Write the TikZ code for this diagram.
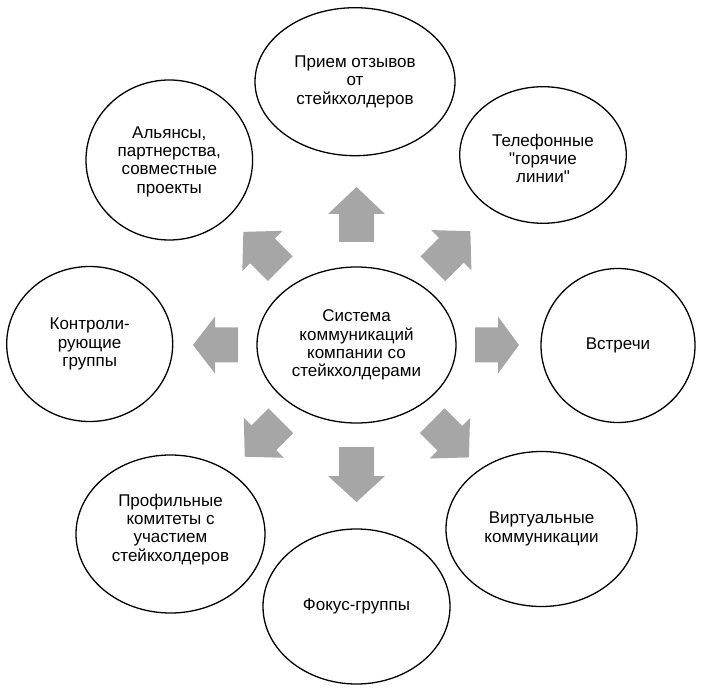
\documentclass[tikz,border=0pt]{standalone}
\usepackage{fontspec}
\setmainfont{Liberation Sans}[Ligatures=TeXOff]
\usetikzlibrary{shapes.geometric}
\definecolor{arrowgray}{RGB}{166,166,166}
\tikzset{
  oval/.style={ellipse, draw=black, line width=1.3pt, fill=white, inner sep=0pt,
    align=center, font=\fontsize{17}{18.3}\selectfont},
  arrowfill/.style={fill=arrowgray}
}
\newcommand\gArrow[4]{%
  \fill[arrowfill, shift={(C)}, rotate=#1]
    (#2,-17.5) -- ({#3-#4},-17.5) -- ({#3-#4},-28.5) -- (#3,0) --
    ({#3-#4},28.5) -- ({#3-#4},17.5) -- (#2,17.5) -- cycle;}
\newcommand\shiftedtext[2]{\raisebox{#1}[\height][\depth]{\begin{tabular}{@{}c@{}}#2\end{tabular}}}
\begin{document}
\begin{tikzpicture}[x=1pt,y=1pt]
\useasboundingbox (0,0) rectangle (704,689);
\coordinate (C) at (356.5,344);
\node[oval, minimum width=199pt, minimum height=156pt] (center) at (356.5,344)
  {Система\\коммуникаций\\компании со\\стейкхолдерами};
\node[oval, minimum width=200pt, minimum height=148pt] (top) at (355,607.3)
  {Прием отзывов\\от\\стейкхолдеров};
\node[oval, minimum width=166.6pt, minimum height=160pt] (topleft) at (169.3,529)
  {\shiftedtext{-2pt}{Альянсы,\\партнерства,\\совместные\\проекты}};
\node[oval, minimum width=166.6pt, minimum height=136.6pt] (topright) at (543,534)
  {\shiftedtext{-6pt}{Телефонные\\"горячие\\линии"}};
\node[oval, minimum width=166pt, minimum height=155pt] (left) at (89.7,345)
  {Контроли-\\рующие\\группы};
\node[oval, minimum width=154pt, minimum height=154pt] (right) at (618,343.5)
  {Встречи};
\node[oval, minimum width=189pt, minimum height=158pt] (bottomleft) at (170.5,155)
  {\shiftedtext{4pt}{Профильные\\комитеты с\\участием\\стейкхолдеров}};
\node[oval, minimum width=187pt, minimum height=155pt] (bottom) at (356.5,82.5)
  {Фокус-группы};
\node[oval, minimum width=191pt, minimum height=155pt] (bottomright) at (541.5,160)
  {Виртуальные\\коммуникации};
\gArrow{90}{103}{158}{27}
\gArrow{270}{102}{157}{26}
\gArrow{180}{118.5}{163.5}{22}
\gArrow{0}{118.5}{162.5}{21}
\gArrow{135}{108}{160}{27}
\gArrow{45}{108}{161}{27}
\gArrow{225}{107}{158}{27}
\gArrow{315}{107}{159}{27}
\end{tikzpicture}
\end{document}
